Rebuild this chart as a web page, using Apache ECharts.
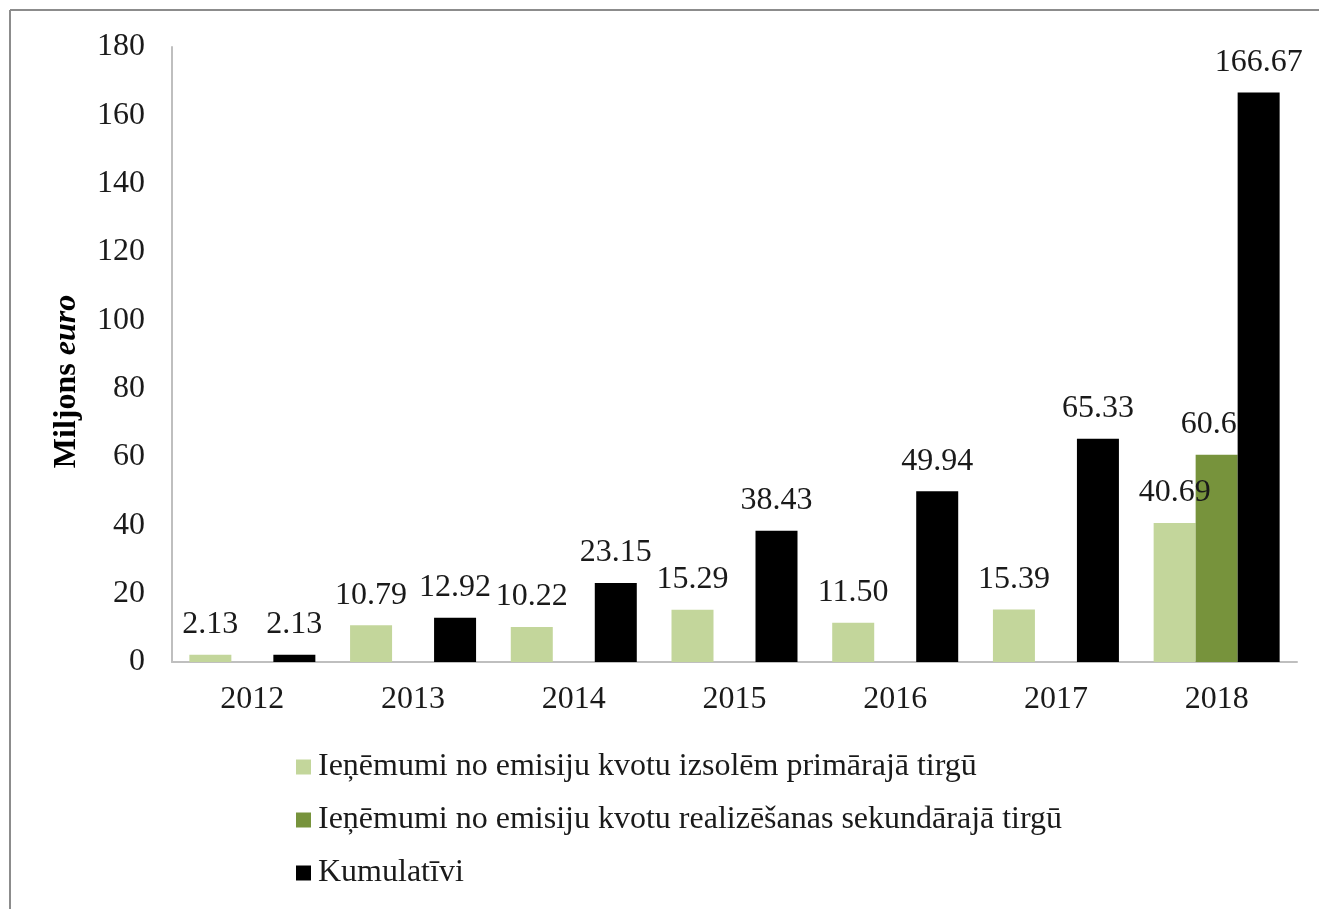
<!DOCTYPE html>
<html>
<head>
<meta charset="utf-8">
<script src="https://cdn.jsdelivr.net/npm/echarts@6/dist/echarts.min.js"></script>
<style>
html,body{margin:0;padding:0;background:#fff;}
#chart{width:1319px;height:909px;}
</style>
</head>
<body>
<div id="chart"></div>
<script>
const categories = ['2012', '2013', '2014', '2015', '2016', '2017', '2018'];
const seriesNames = [
  'Ieņēmumi no emisiju kvotu izsolēm primārajā tirgū',
  'Ieņēmumi no emisiju kvotu realizēšanas sekundārajā tirgū',
  'Kumulatīvi'
];
const primary = [2.13, 10.79, 10.22, 15.29, 11.50, 15.39, 40.69];
const secondary = [null, null, null, null, null, null, 60.65];
const cumulative = [2.13, 12.92, 23.15, 38.43, 49.94, 65.33, 166.67];
const colors = ['#c3d69b', '#77933c', '#000000'];

const FONT = '"Liberation Serif", "Times New Roman", serif';
const FS = 32;

const chart = echarts.init(document.getElementById('chart'), null, {renderer: 'canvas'});

function labelCfg() {
  return {
    show: true,
    position: 'top',
    distance: 14,
    fontFamily: FONT,
    fontSize: FS,
    color: '#1a1a1a',
    formatter: p => (p.value == null ? '' : Number(p.value).toFixed(2))
  };
}

const option = {
  backgroundColor: '#fff',
  animation: false,
  textStyle: {fontFamily: FONT},
  graphic: [
    {type: 'line', shape: {x1: 10, y1: 10, x2: 1319, y2: 10}, style: {stroke: '#8c8c8c', lineWidth: 2}},
    {type: 'line', shape: {x1: 10, y1: 10, x2: 10, y2: 909}, style: {stroke: '#8c8c8c', lineWidth: 2}}
  ],
  grid: {left: 172, right: 22, top: 47, bottom: 247, containLabel: false},
  legend: {
    orient: 'vertical',
    left: 296,
    top: 751,
    padding: 0,
    itemWidth: 15,
    itemHeight: 15,
    itemGap: 21,
    icon: 'rect',
    textStyle: {fontFamily: FONT, fontSize: FS, color: '#1a1a1a', padding: [0, 0, 0, 2]},
    data: seriesNames
  },
  xAxis: {
    type: 'category',
    data: categories,
    axisLine: {lineStyle: {color: '#bfbfbf', width: 2}},
    axisTick: {show: false},
    axisLabel: {fontFamily: FONT, fontSize: FS, color: '#1a1a1a', margin: 22}
  },
  yAxis: {
    type: 'value',
    min: 0,
    max: 180,
    interval: 20,
    name: '{b|Miljons }{i|euro}',
    nameLocation: 'middle',
    nameGap: 89,
    nameRotate: 90,
    nameTextStyle: {
      padding: [0, 54, 0, 0],
      rich: {
        b: {fontFamily: FONT, fontSize: 32, fontWeight: 'bold', color: '#000'},
        i: {fontFamily: FONT, fontSize: 32, fontWeight: 'bold', fontStyle: 'italic', color: '#000'}
      }
    },
    axisLine: {show: true, lineStyle: {color: '#bfbfbf', width: 2}},
    axisTick: {show: false},
    splitLine: {show: false},
    axisLabel: {fontFamily: FONT, fontSize: FS, color: '#1a1a1a', margin: 27}
  },
  series: [
    {name: seriesNames[0], type: 'bar', data: primary, itemStyle: {color: colors[0]},
     barGap: '0%', barCategoryGap: '21.6%', z: 2, label: labelCfg()},
    {name: seriesNames[1], type: 'bar', data: secondary, itemStyle: {color: colors[1]},
     barGap: '0%', barCategoryGap: '21.6%', z: 2, label: labelCfg()},
    {name: seriesNames[2], type: 'bar', data: cumulative, itemStyle: {color: colors[2]},
     barGap: '0%', barCategoryGap: '21.6%', z: 3, label: labelCfg()}
  ]
};
chart.setOption(option);
</script>
</body>
</html>
